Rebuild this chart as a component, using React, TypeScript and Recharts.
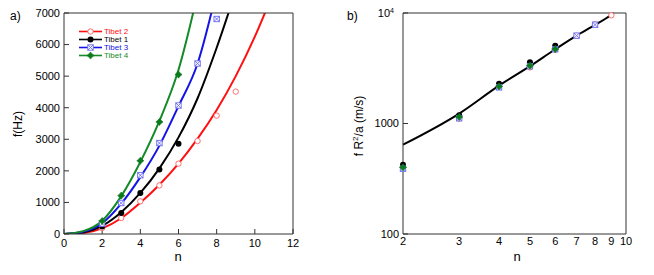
import React from 'react';
import { ComposedChart, Line, Scatter, XAxis, YAxis } from 'recharts';

const FONT = '"Liberation Sans", Arial, Helvetica, sans-serif';

// ---------- panel a) : f (Hz) vs n ----------
const modesA = [2, 3, 4, 5, 6, 7, 8, 9];
const tibet2A = [190, 507, 1035, 1540, 2228, 2946, 3750, 4510];
const tibet1A = [240, 665, 1300, 2040, 2860];
const tibet3A = [327, 982, 1860, 2880, 4070, 5400, 6810];
const tibet4A = [412, 1215, 2320, 3550, 5050];

const fitNA = [0, 1, 2, 3, 4, 5, 6, 7, 8, 9, 10, 11];
const fit2A = [0, 30, 180, 500, 990, 1560, 2230, 3020, 3930, 5000, 6250, 7700];
const fit1A = [0, 50, 260, 690, 1300, 2080, 3060, 4300, 5900, 7700];
const fit3A = [0, 70, 340, 960, 1800, 2800, 4050, 5400, 7700];
const fit4A = [0, 90, 420, 1200, 2280, 3580, 5200, 7600];

const xTicksA = [0, 2, 4, 6, 8, 10, 12];
const yTicksA = [0, 1000, 2000, 3000, 4000, 5000, 6000, 7000];

// ---------- panel b) : f R^2/a (m/s) vs n, log-log ----------
const modesB = [2, 3, 4, 5, 6, 7, 8, 9];
const tibet2B = [397, 1107, 2140, 3221, 4650, 6220, 7900, 9530];
const tibet1B = [424, 1190, 2290, 3580, 5060];
const tibet3B = [390, 1115, 2123, 3300, 4700, 6240, 7840];
const tibet4B = [401, 1146, 2168, 3337, 4720];

const fitNB = [2, 3, 4, 5, 6, 7, 8, 9, 9.15];
const fitB = [643, 1230, 2200, 3300, 4700, 6250, 7800, 9650, 10000];

const xTicksB = [2, 3, 4, 5, 6, 7, 8, 9, 10];
const yTicksB = [100, 1000, 10000];

const toPts = (ns: number[], vs: number[]) => vs.map((f, i) => ({ n: ns[i], f }));

type Kind = 'circleOpen' | 'circleFilled' | 'squareX' | 'star';

const SERIES: { name: string; line: string; marker: string; kind: Kind; a: number[]; fitA: number[]; b: number[] }[] = [
  { name: 'Tibet 2', line: '#ff1010', marker: '#ff6060', kind: 'circleOpen', a: tibet2A, fitA: fit2A, b: tibet2B },
  { name: 'Tibet 1', line: '#000000', marker: '#000000', kind: 'circleFilled', a: tibet1A, fitA: fit1A, b: tibet1B },
  { name: 'Tibet 3', line: '#1414e6', marker: '#6a6af0', kind: 'squareX', a: tibet3A, fitA: fit3A, b: tibet3B },
  { name: 'Tibet 4', line: '#148a28', marker: '#0c7a1c', kind: 'star', a: tibet4A, fitA: fit4A, b: tibet4B },
];

function Marker({ kind, cx, cy, color }: { kind: Kind; cx: number; cy: number; color: string }) {
  if (cx == null || cy == null || isNaN(cx) || isNaN(cy)) return null;
  switch (kind) {
    case 'circleOpen':
      return <circle cx={cx} cy={cy} r={2.7} fill="#fff" stroke={color} strokeWidth={0.9} />;
    case 'circleFilled':
      return <circle cx={cx} cy={cy} r={3} fill={color} />;
    case 'squareX':
      return (
        <g stroke={color} strokeWidth={0.9} fill="#fff">
          <rect x={cx - 2.7} y={cy - 2.7} width={5.4} height={5.4} />
          <line x1={cx - 2.7} y1={cy - 2.7} x2={cx + 2.7} y2={cy + 2.7} />
          <line x1={cx - 2.7} y1={cy + 2.7} x2={cx + 2.7} y2={cy - 2.7} />
        </g>
      );
    default: {
      const o = 3.6, i = 1.6;
      const d = `M${cx},${cy - o} L${cx + i},${cy - i} L${cx + o},${cy} L${cx + i},${cy + i} L${cx},${cy + o} L${cx - i},${cy + i} L${cx - o},${cy} L${cx - i},${cy - i} Z`;
      return <path d={d} fill={color} stroke={color} strokeWidth={0.6} />;
    }
  }
}

const LegendBox = ({ x, y }: { x: number; y: number }) => (
  <g>
    {SERIES.map((s, i) => {
      const yy = y + i * 8;
      return (
        <g key={s.name}>
          <line x1={x} x2={x + 23} y1={yy} y2={yy} stroke={s.line} strokeWidth={1.6} />
          <Marker kind={s.kind} cx={x + 11.5} cy={yy} color={s.marker} />
          <text x={x + 25} y={yy} dy="0.35em" fontSize={8} fontFamily={FONT} fill={s.line}>
            {s.name}
          </text>
        </g>
      );
    })}
  </g>
);

const tickStyle = { fill: '#000', fontSize: 11, fontFamily: FONT };
const AX = '#333';

const LogYTick = (props: any) => {
  const { x, y, payload } = props;
  if (payload.value === 10000) {
    return (
      <text x={x - 5} y={y} dy="0.35em" textAnchor="end" fontSize={11} fontFamily={FONT} fill="#000">
        10<tspan dy={-4} fontSize={7}>4</tspan>
      </text>
    );
  }
  return (
    <text x={x} y={y} dy="0.35em" textAnchor="end" fontSize={11} fontFamily={FONT} fill="#000">
      {payload.value}
    </text>
  );
};

export default function App() {
  return (
    <div style={{ position: 'absolute', left: 0, top: 0, width: 654, height: 275, background: '#fff' }}>
      <div style={{ position: 'absolute', left: 0, top: 0 }}>
        <ComposedChart width={330} height={275} margin={{ top: 12, right: 36, bottom: 0, left: 0 }}>
          <XAxis xAxisId="b" dataKey="n" type="number" domain={[0, 12]} ticks={xTicksA} height={41}
            tickSize={-5} tickMargin={10} stroke={AX} tick={tickStyle} interval={0} />
          <XAxis xAxisId="t" orientation="top" type="number" domain={[0, 12]} ticks={xTicksA} height={1}
            tickSize={-5} stroke={AX} tick={false} interval={0} />
          <YAxis yAxisId="l" dataKey="f" type="number" domain={[0, 7000]} ticks={yTicksA} width={64}
            tickSize={-5} tickMargin={9} stroke={AX} tick={tickStyle} allowDataOverflow interval={0} />
          <YAxis yAxisId="r" orientation="right" type="number" domain={[0, 7000]} ticks={yTicksA} width={1}
            tickSize={-5} stroke={AX} tick={false} interval={0} />
          {SERIES.map((s) => (
            <Line key={'fa' + s.name} xAxisId="b" yAxisId="l" data={toPts(fitNA, s.fitA)} dataKey="f"
              type="monotone" stroke={s.line} strokeWidth={2} dot={false} activeDot={false}
              isAnimationActive={false} legendType="none" />
          ))}
          {SERIES.map((s) => (
            <Scatter key={'sa' + s.name} name={s.name} xAxisId="b" yAxisId="l" data={toPts(modesA, s.a)} dataKey="f"
              isAnimationActive={false}
              shape={(p: any) => <Marker kind={s.kind} cx={p.cx} cy={p.cy} color={s.marker} />} />
          ))}
        </ComposedChart>
      </div>
      <div style={{ position: 'absolute', left: 330, top: 0 }}>
        <ComposedChart width={324} height={275} margin={{ top: 12, right: 27, bottom: 0, left: 0 }}>
          <XAxis xAxisId="b" dataKey="n" type="number" scale="log" domain={[2, 10]} ticks={xTicksB} height={41}
            tickLine={false} tickSize={-5} tickMargin={8} stroke={AX} tick={tickStyle} interval={0} />
          <XAxis xAxisId="t" orientation="top" type="number" scale="log" domain={[2, 10]} ticks={xTicksB} height={1}
            tickLine={false} stroke={AX} tick={false} interval={0} />
          <YAxis yAxisId="l" dataKey="f" type="number" scale="log" domain={[100, 10000]} ticks={yTicksB} width={73}
            tickSize={-5} tickMargin={9} stroke={AX} tick={<LogYTick />} interval={0} />
          <YAxis yAxisId="r" orientation="right" type="number" scale="log" domain={[100, 10000]} ticks={yTicksB} width={1}
            tickSize={-5} stroke={AX} tick={false} interval={0} />
          <Line xAxisId="b" yAxisId="l" data={toPts(fitNB, fitB)} dataKey="f" type="monotone" stroke="#000"
            strokeWidth={2} dot={false} activeDot={false} isAnimationActive={false} legendType="none" />
          {SERIES.map((s) => (
            <Scatter key={'sb' + s.name} name={s.name} xAxisId="b" yAxisId="l" data={toPts(modesB, s.b)} dataKey="f"
              isAnimationActive={false}
              shape={(p: any) => <Marker kind={s.kind} cx={p.cx} cy={p.cy} color={s.marker} />} />
          ))}
        </ComposedChart>
      </div>
      <svg width={654} height={275} style={{ position: 'absolute', left: 0, top: 0, pointerEvents: 'none' }}
        fontFamily={FONT} fill="#000">
        <LegendBox x={79} y={31.5} />
        <text x={10} y={20} fontSize={12}>a)</text>
        <text x={22} y={124} fontSize={12} textAnchor="middle" transform="rotate(-90 22 124)">f(Hz)</text>
        <text x={178} y={261} fontSize={13} textAnchor="middle">n</text>
        <text x={347} y={20} fontSize={12}>b)</text>
        <text x={363} y={126} fontSize={12} textAnchor="middle" transform="rotate(-90 363 126)">
          f R<tspan dy={-5} fontSize={8}>2</tspan><tspan dy={5}>/a (m/s)</tspan>
        </text>
        <text x={517} y={261} fontSize={13} textAnchor="middle">n</text>
      </svg>
    </div>
  );
}
